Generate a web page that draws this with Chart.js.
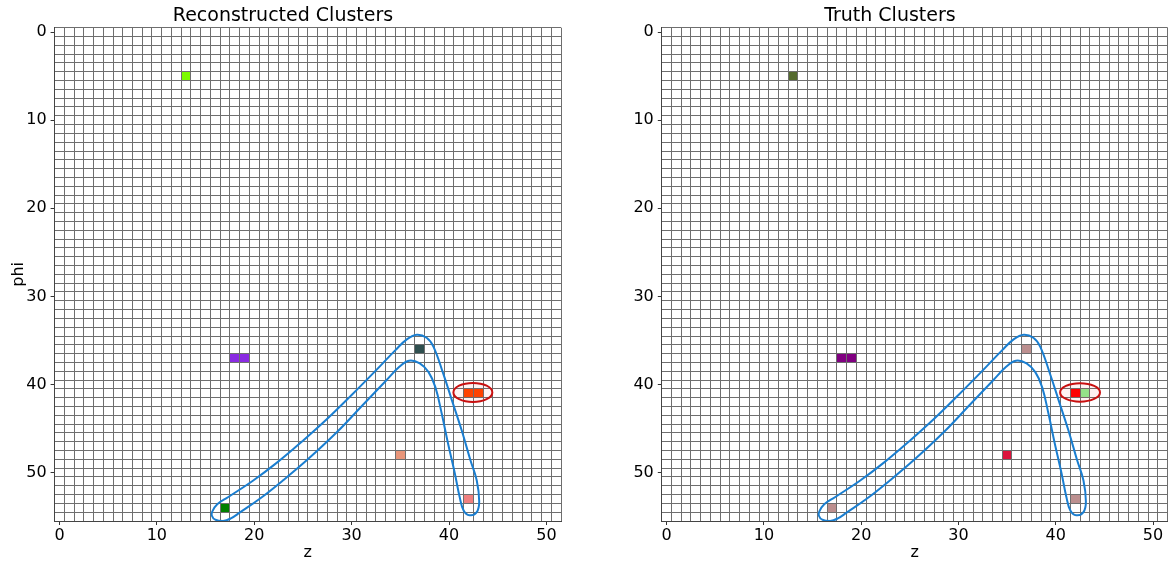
<!DOCTYPE html>
<html>
<head>
<meta charset="utf-8">
<title>Reconstructed vs Truth Clusters</title>
<script src="https://cdn.jsdelivr.net/npm/chart.js@4.4.0/dist/chart.umd.min.js"></script>
<style>
  body { margin: 0; background: #fff; }
  #wrap { position: relative; width: 1170px; height: 564px; }
  canvas { position: absolute; top: 0; }
  #reco { left: 0; }
  #truth { left: 585px; }
</style>
</head>
<body>
<div id="wrap">
  <canvas id="reco" width="585" height="564"></canvas>
  <canvas id="truth" width="585" height="564"></canvas>
</div>
<script>
// grid size (cells along z and phi)
var nZ = 52;
var nPhi = 56;
var zTicks = [0, 10, 20, 30, 40, 50];
var phiTicks = [0, 10, 20, 30, 40, 50];

// hit cells, same positions in both panels, colour = cluster id
var cellZ   = [13, 18, 19, 37, 42, 43, 35, 42, 17];
var cellPhi = [5, 37, 37, 36, 41, 41, 48, 53, 54];
var recoColors  = ['#7cfc00', '#8a2be2', '#8a2be2', '#2f4f4f', '#ff4500', '#ff4500', '#e9967a', '#f08080', '#008000'];
var truthColors = ['#556b2f', '#800080', '#800080', '#bc8f8f', '#ff0000', '#90ee90', '#dc143c', '#bc8f8f', '#bc8f8f'];

// hand drawn outline around the track (z, phi), closed
var loopZ   = [25.0, 27.5, 30.0, 32.5, 34.5, 35.7, 36.7, 37.7, 38.4, 39.4, 40.3, 41.3, 42.2, 42.85, 43.1, 42.85, 42.1, 41.5, 41.1, 40.6, 39.9, 39.25, 38.6, 37.9, 37.0, 35.9, 34.9, 33.5, 31.0, 28.5, 25.5, 23.0, 20.6, 18.5, 17.6, 16.8, 16.0, 15.65, 15.7, 16.2, 17.3, 19.9, 22.3, 25.0];
var loopPhi = [46.4, 43.9, 41.2, 38.4, 36.1, 34.85, 34.35, 34.7, 35.7, 38.75, 41.8, 45.2, 48.6, 50.9, 53.3, 54.5, 54.85, 54.3, 52.8, 50.1, 46.7, 43.3, 40.3, 38.6, 37.6, 37.3, 38.0, 39.6, 42.5, 45.4, 48.5, 50.85, 52.95, 54.55, 55.2, 55.5, 55.35, 54.9, 54.4, 53.6, 52.8, 50.9, 48.9, 46.4];

// red ring around the split/merged pair: centre z, centre phi, half widths
var recoRing  = [42.45, 40.9, 2.0, 1.08];
var truthRing = [42.5, 40.9, 2.05, 1.05];

var gridColor = '#6e6e6e';
Chart.defaults.font.family = 'DejaVu Sans';
Chart.defaults.color = '#000';

function edges(n) {
  var out = [];
  for (var i = 0; i <= n; i++) out.push({value: i - 0.5});
  return out;
}

function align(px) { return Math.round(px - 0.5) + 0.5; }

/* fill every hit cell through the x / y scales, then redraw its edges */
var cellPlugin = {
  id: 'cells',
  beforeDatasetsDraw: function(chart) {
    var xs = chart.scales.x, ys = chart.scales.y, c = chart.ctx;
    c.save();
    chart.data.datasets.forEach(function(ds) {
      if (!ds.cells) return;
      ds.data.forEach(function(p, i) {
        var x0 = align(xs.getPixelForValue(p.x - 0.5)), x1 = align(xs.getPixelForValue(p.x + 0.5));
        var y0 = align(ys.getPixelForValue(p.y - 0.5)), y1 = align(ys.getPixelForValue(p.y + 0.5));
        c.fillStyle = ds.backgroundColor[i];
        c.fillRect(x0, y0, x1 - x0, y1 - y0);
        c.strokeStyle = gridColor;
        c.lineWidth = 1;
        c.strokeRect(x0, y0, x1 - x0, y1 - y0);
      });
    });
    c.restore();
  },
  afterDatasetsDraw: function(chart, args, opts) {
    var r = opts.ring;
    if (!r) return;
    var xs = chart.scales.x, ys = chart.scales.y, c = chart.ctx;
    var cx = xs.getPixelForValue(r[0]), cy = ys.getPixelForValue(r[1]);
    var rx = Math.abs(xs.getPixelForValue(r[0] + r[2]) - cx);
    var ry = Math.abs(ys.getPixelForValue(r[1] + r[3]) - cy);
    c.save();
    c.beginPath();
    c.ellipse(cx, cy, rx, ry, 0, 0, 2 * Math.PI);
    c.fillStyle = 'rgba(230,0,0,0.05)';
    c.fill();
    c.strokeStyle = '#c81010';
    c.lineWidth = 2;
    c.stroke();
    c.restore();
  }
};

function makePanel(id, title, colors, ring, showPhi, padLeft, padRight) {
  var cells = cellZ.map(function(z, i) { return {x: z, y: cellPhi[i]}; });
  var loop = loopZ.map(function(z, i) { return {x: z, y: loopPhi[i]}; });
  return new Chart(document.getElementById(id), {
    type: 'scatter',
    data: {
      datasets: [{
        cells: true,
        data: cells,
        backgroundColor: colors,
        pointRadius: 0
      }, {
        data: loop,
        showLine: true,
        borderColor: '#1a7ed0',
        borderWidth: 2,
        tension: 0.4,
        pointRadius: 0,
        fill: false
      }]
    },
    options: {
      responsive: false,
      animation: false,
      events: [],
      layout: { padding: { left: padLeft, right: padRight, top: 0, bottom: 0 } },
      plugins: {
        legend: { display: false },
        tooltip: { enabled: false },
        title: {
          display: true,
          text: title,
          color: '#000',
          font: { size: 19, weight: 'normal' },
          padding: { top: 4.5, bottom: 0.4 }
        },
        cells: { ring: ring }
      },
      scales: {
        x: {
          type: 'linear', axis: 'x', position: 'bottom',
          min: -0.5, max: nZ - 0.5,
          afterBuildTicks: function(s) { s.ticks = edges(nZ); },
          ticks: { display: false },
          grid: { color: gridColor, lineWidth: 1, drawTicks: false },
          border: { display: false }
        },
        y: {
          type: 'linear', axis: 'y', position: 'left', reverse: true,
          min: -0.5, max: nPhi - 0.5,
          afterBuildTicks: function(s) { s.ticks = edges(nPhi); },
          ticks: { display: false },
          grid: { color: gridColor, lineWidth: 1, drawTicks: false },
          border: { display: false }
        },
        x2: {
          type: 'linear', axis: 'x', position: 'bottom',
          min: -0.5, max: nZ - 0.5,
          afterBuildTicks: function(s) { s.ticks = zTicks.map(function(v) { return {value: v}; }); },
          afterFit: function(s) { s.height = 43; },
          ticks: { color: '#000', font: { size: 16 }, padding: 1, maxRotation: 0, autoSkip: false },
          grid: { drawOnChartArea: false, tickLength: 4, color: '#333' },
          border: { color: '#444' },
          title: { display: true, text: 'z', color: '#000', font: { size: 16 }, padding: { top: 0, bottom: 2 } }
        },
        y2: {
          type: 'linear', axis: 'y', position: 'left', reverse: true,
          min: -0.5, max: nPhi - 0.5,
          afterBuildTicks: function(s) { s.ticks = phiTicks.map(function(v) { return {value: v}; }); },
          afterFit: function(s) { s.width = 49.6; },
          ticks: { color: '#000', font: { size: 16 }, padding: 4, autoSkip: false },
          grid: { drawOnChartArea: false, tickLength: 4, color: '#333' },
          border: { color: '#444' },
          title: { display: showPhi, text: 'phi', color: '#000', font: { size: 16 }, padding: { top: 4, bottom: 0 } }
        }
      }
    },
    plugins: [cellPlugin]
  });
}

makePanel('reco', 'Reconstructed Clusters', recoColors, recoRing, true, 5, 24);
makePanel('truth', 'Truth Clusters', truthColors, truthRing, false, 27.2, 2.4);
</script>
</body>
</html>
